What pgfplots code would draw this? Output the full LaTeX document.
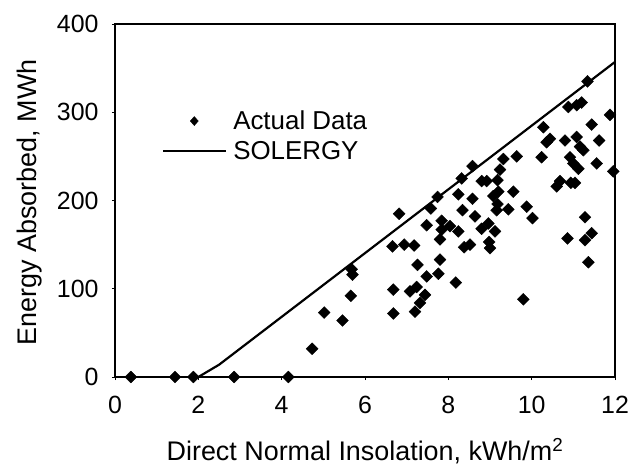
\documentclass[border=0pt]{standalone}
\usepackage{fontspec}
\setmainfont{Liberation Sans}
\usepackage{pgfplots}
\pgfplotsset{compat=1.18}

\begin{document}
\begin{tikzpicture}
\begin{axis}[
    name=ax,
    scale only axis,
    width=500bp, height=353bp,
    xmin=0, xmax=12, ymin=0, ymax=400,
    xtick={0,2,...,12}, ytick={0,100,...,400},
    axis line style={line width=1.8pt},
    tick align=outside,
    major tick length=3bp,
    tick style={black, line width=0.6pt},
    xtick pos=left, ytick pos=left,
    /pgf/number format/assume math mode=true,
    tick label style={font=\fontsize{25}{28}\selectfont},
    label style={font=\fontsize{27}{30}\selectfont},
    xticklabel style={yshift=-13bp},
    yticklabel style={xshift=-10bp},
    xlabel={Direct Normal Insolation, kWh/m\textsuperscript{2}},
    ylabel={Energy Absorbed, MWh},
    xlabel style={at={(axis description cs:0.5,-0.236)}, anchor=base},
    ylabel style={at={(axis description cs:-0.156,0.495)}, anchor=base},
    legend style={draw=none, fill=none, inner sep=0pt,
        at={(axis cs:1.13,304)}, anchor=north west,
        font=\fontsize{26}{29}\selectfont, row sep=6bp,
        /tikz/every odd column/.style={column sep=4bp}},
    legend cell align=left,
]
\addplot[only marks, mark=square*, mark size=4.2bp,
    mark options={rotate=45, black},
    legend image code/.code={
        \fill[black] (31bp,4.5bp) -- (35bp,0) -- (31bp,-4.5bp) -- (27bp,0) -- cycle;
    }] coordinates {
(0.38,0) (1.44,0) (1.88,0) (2.86,0) (4.16,0)
(4.73,32) (5.02,73) (5.46,64) (5.66,92) (5.70,116) (5.68,122)
(6.68,99) (6.68,72) (6.66,148) (6.82,185) (6.94,150) (7.18,149)
(7.08,97) (7.24,102) (7.20,74) (7.32,84) (7.44,93) (7.26,127)
(7.48,114) (7.48,172) (7.58,191) (7.74,204) (7.76,117) (7.80,133)
(7.80,156) (7.84,167) (7.84,177) (8.04,171) (8.18,107) (8.24,165)
(8.24,207) (8.34,189) (8.32,225) (8.38,147) (8.52,150) (8.58,202)
(8.58,239) (8.64,182) (8.80,168) (8.80,222) (8.92,222) (8.96,174)
(8.98,153) (9.00,146) (9.12,165) (9.16,189) (9.18,196) (9.08,205)
(9.20,210) (9.18,223) (9.24,235) (9.32,247) (9.44,190) (9.56,210)
(9.64,250) (9.80,88) (9.88,193) (10.02,180) (10.24,249) (10.28,283)
(10.36,266) (10.44,270) (10.60,216) (10.68,222) (10.80,268) (10.86,157)
(10.88,306) (10.92,249) (10.94,220) (11.04,220) (11.00,242) (11.08,272)
(11.08,308) (11.20,311) (11.16,261) (11.24,257) (11.12,236) (11.28,181)
(11.28,155) (11.36,130) (11.44,163) (11.34,335) (11.44,286) (11.56,242)
(11.62,268) (11.88,297) (11.96,233)
};
\addlegendentry{Actual Data}
\addplot[black, line width=2.2pt, mark=none,
    legend image code/.code={
        \draw[black, line width=2pt] (0bp,0) -- (63bp,0);
    }] coordinates {
(2.0,0) (2.5,14) (12,357)
};
\addlegendentry{SOLERGY}
\end{axis}
\pgfresetboundingbox
\path[use as bounding box] ([shift={(-115bp,-91bp)}]ax.south west)
    rectangle ([shift={(515bp,377bp)}]ax.south west);
\end{tikzpicture}
\end{document}
